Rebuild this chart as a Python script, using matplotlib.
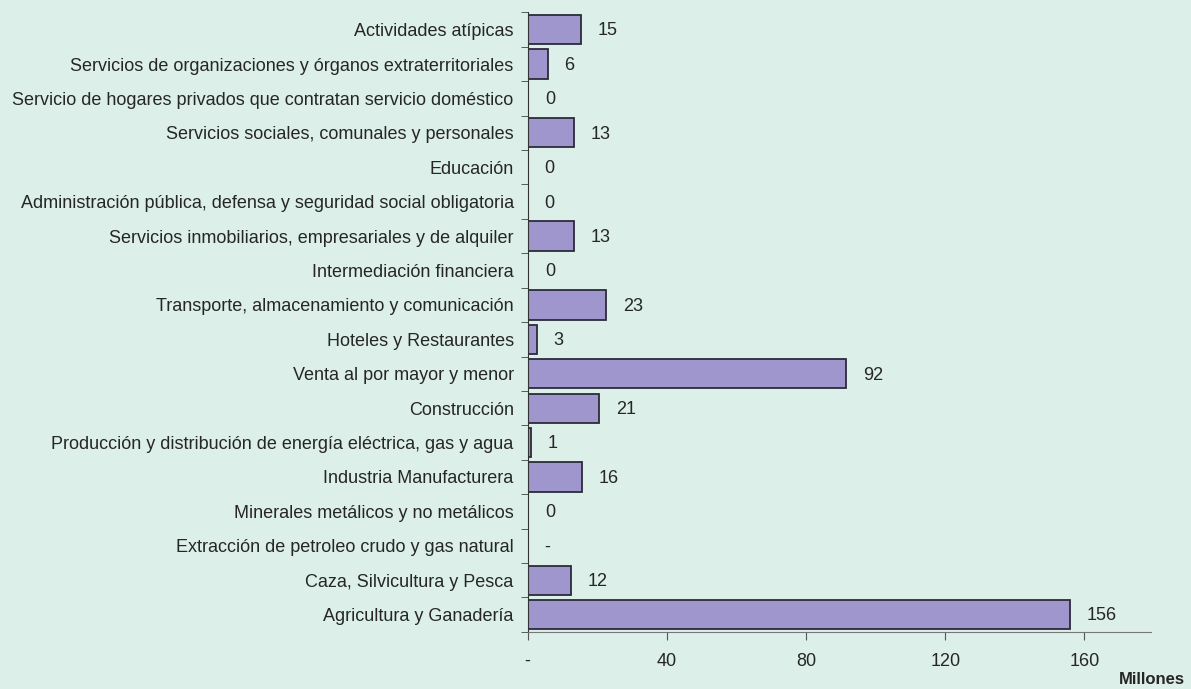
import matplotlib.pyplot as plt
import numpy as np

# categories, top to bottom as in the chart
sectores = [
    'Actividades atípicas',
    'Servicios de organizaciones y órganos extraterritoriales',
    'Servicio de hogares privados que contratan servicio doméstico',
    'Servicios sociales, comunales y personales',
    'Educación',
    'Administración pública, defensa y seguridad social obligatoria',
    'Servicios inmobiliarios, empresariales y de alquiler',
    'Intermediación financiera',
    'Transporte, almacenamiento y comunicación',
    'Hoteles y Restaurantes',
    'Venta al por mayor y menor',
    'Construcción',
    'Producción y distribución de energía eléctrica, gas y agua',
    'Industria Manufacturera',
    'Minerales metálicos y no metálicos',
    'Extracción de petroleo crudo y gas natural',
    'Caza, Silvicultura y Pesca',
    'Agricultura y Ganadería',
]
valores = [15.3, 5.8, 0.2, 13.3, 0.1, 0.1, 13.2, 0.2, 22.6, 2.6, 91.6, 20.6, 0.9, 15.6, 0.2, 0.0, 12.4, 155.8]
etiquetas = ['15', '6', '0', '13', '0', '0', '13', '0', '23', '3', '92', '21', '1', '16', '0', '-', '12', '156']

xticks = [0, 40, 80, 120, 160]
xticklabels = ['-', '40', '80', '120', '160']

plt.rcParams['font.family'] = ['Liberation Sans', 'DejaVu Sans']

fondo = '#dcefe8'
texto = '#262626'
fig = plt.figure(figsize=(11.91, 6.89), dpi=100, facecolor=fondo)
ax = fig.add_axes([0.443, 0.083, 0.523, 0.899])
ax.set_facecolor(fondo)

y = np.arange(len(sectores))
ax.barh(y, valores, height=0.85, color='#9e96cc', edgecolor='#2b2b3a', linewidth=1.3)

for yi, v, t in zip(y, valores, etiquetas):
    ax.annotate(t, (v, yi), xytext=(12, -1), textcoords='offset points',
                va='center', ha='left', fontsize=13, color=texto)

ax.set_ylim(len(sectores) - 0.5, -0.5)
ax.set_xlim(0, 179)

ax.set_yticks(y)
ax.set_yticklabels(sectores, fontsize=13, color=texto)
ax.tick_params(axis='y', length=0, pad=10)
# tick marks between categories
ax.set_yticks(np.arange(len(sectores) + 1) - 0.5, minor=True)
ax.tick_params(axis='y', which='minor', length=5, color='#444444')

ax.set_xticks(xticks)
ax.set_xticklabels(xticklabels, fontsize=13, color=texto)
ax.tick_params(axis='x', length=6, color='#555555', pad=9)

for s in ['top', 'right']:
    ax.spines[s].set_visible(False)
ax.spines['left'].set_color('#333333')
ax.spines['bottom'].set_color('#777777')

fig.text(0.995, 0.003, 'Millones', ha='right', va='bottom', fontsize=12, fontweight='bold', color=texto)

fig.savefig('out.png', dpi=100, facecolor=fondo)
